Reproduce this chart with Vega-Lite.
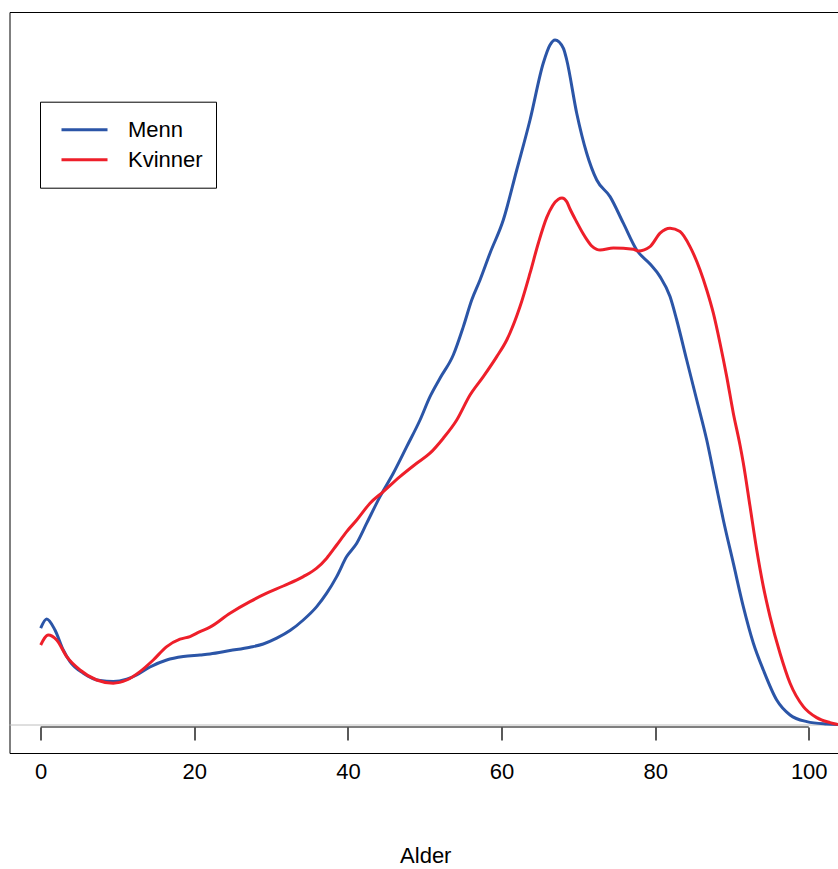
{
  "$schema": "https://vega.github.io/schema/vega-lite/v6.json",
  "autosize": {"type": "none"},
  "padding": {"left": 9.5, "top": 12, "right": -3, "bottom": 116},
  "width": 831.5,
  "height": 741,
  "background": "white",
  "config": {
    "view": {"stroke": "#000000", "strokeWidth": 1},
    "font": "Liberation Sans",
    "axis": {"labelFont": "Liberation Sans", "titleFont": "Liberation Sans"},
    "legend": {"labelFont": "Liberation Sans"}
  },
  "resolve": {"axis": {"x": "independent", "y": "independent"}},
  "layer": [
    {
      "data": {"values": [{"nivaa": 0}]},
      "mark": {"type": "rule", "color": "#bebebe", "strokeWidth": 1},
      "encoding": {
        "y": {"field": "nivaa", "type": "quantitative", "scale": {"domain": [-0.0014, 0.03565], "nice": false, "zero": false}, "axis": null}
      }
    },
    {
      "data": {"values": [{"fra": 0, "til": 100, "akse": -0.0001}]},
      "mark": {"type": "rule", "color": "#000000", "strokeWidth": 1.2},
      "encoding": {
        "x": {"field": "fra", "type": "quantitative", "scale": {"domain": [-4.06, 104.2], "nice": false, "zero": false}, "axis": null},
        "x2": {"field": "til"},
        "y": {"field": "akse", "type": "quantitative", "scale": {"domain": [-0.0014, 0.03565], "nice": false, "zero": false}, "axis": null}
      }
    },
    {
      "data": {"values": [
      {"kjonn": "Menn", "alder": 0.0, "tetthet": 0.00484},
      {"kjonn": "Menn", "alder": 0.78, "tetthet": 0.0053},
      {"kjonn": "Menn", "alder": 1.86, "tetthet": 0.00475},
      {"kjonn": "Menn", "alder": 2.94, "tetthet": 0.00375},
      {"kjonn": "Menn", "alder": 3.82, "tetthet": 0.00317},
      {"kjonn": "Menn", "alder": 5.55, "tetthet": 0.00259},
      {"kjonn": "Menn", "alder": 7.72, "tetthet": 0.00222},
      {"kjonn": "Menn", "alder": 9.45, "tetthet": 0.00217},
      {"kjonn": "Menn", "alder": 11.2, "tetthet": 0.00229},
      {"kjonn": "Menn", "alder": 12.5, "tetthet": 0.0025},
      {"kjonn": "Menn", "alder": 14.23, "tetthet": 0.0029},
      {"kjonn": "Menn", "alder": 16.41, "tetthet": 0.00325},
      {"kjonn": "Menn", "alder": 18.57, "tetthet": 0.00342},
      {"kjonn": "Menn", "alder": 20.74, "tetthet": 0.0035},
      {"kjonn": "Menn", "alder": 22.04, "tetthet": 0.00355},
      {"kjonn": "Menn", "alder": 24.65, "tetthet": 0.00372},
      {"kjonn": "Menn", "alder": 27.25, "tetthet": 0.00389},
      {"kjonn": "Menn", "alder": 28.98, "tetthet": 0.00405},
      {"kjonn": "Menn", "alder": 30.73, "tetthet": 0.00434},
      {"kjonn": "Menn", "alder": 32.46, "tetthet": 0.00472},
      {"kjonn": "Menn", "alder": 34.19, "tetthet": 0.00525},
      {"kjonn": "Menn", "alder": 35.94, "tetthet": 0.00592},
      {"kjonn": "Menn", "alder": 37.24, "tetthet": 0.00659},
      {"kjonn": "Menn", "alder": 38.54, "tetthet": 0.00742},
      {"kjonn": "Menn", "alder": 39.84, "tetthet": 0.00842},
      {"kjonn": "Menn", "alder": 41.15, "tetthet": 0.00909},
      {"kjonn": "Menn", "alder": 42.45, "tetthet": 0.01009},
      {"kjonn": "Menn", "alder": 44.18, "tetthet": 0.01142},
      {"kjonn": "Menn", "alder": 45.91, "tetthet": 0.01259},
      {"kjonn": "Menn", "alder": 47.66, "tetthet": 0.01392},
      {"kjonn": "Menn", "alder": 49.39, "tetthet": 0.01525},
      {"kjonn": "Menn", "alder": 50.69, "tetthet": 0.01642},
      {"kjonn": "Menn", "alder": 51.99, "tetthet": 0.01734},
      {"kjonn": "Menn", "alder": 53.72, "tetthet": 0.0185},
      {"kjonn": "Menn", "alder": 55.03, "tetthet": 0.01992},
      {"kjonn": "Menn", "alder": 56.12, "tetthet": 0.02125},
      {"kjonn": "Menn", "alder": 57.2, "tetthet": 0.02225},
      {"kjonn": "Menn", "alder": 58.5, "tetthet": 0.02359},
      {"kjonn": "Menn", "alder": 60.23, "tetthet": 0.02525},
      {"kjonn": "Menn", "alder": 61.98, "tetthet": 0.02775},
      {"kjonn": "Menn", "alder": 63.71, "tetthet": 0.03025},
      {"kjonn": "Menn", "alder": 65.44, "tetthet": 0.0331},
      {"kjonn": "Menn", "alder": 66.31, "tetthet": 0.034},
      {"kjonn": "Menn", "alder": 66.97, "tetthet": 0.03425},
      {"kjonn": "Menn", "alder": 68.05, "tetthet": 0.03384},
      {"kjonn": "Menn", "alder": 68.49, "tetthet": 0.03325},
      {"kjonn": "Menn", "alder": 69.79, "tetthet": 0.03059},
      {"kjonn": "Menn", "alder": 71.09, "tetthet": 0.02859},
      {"kjonn": "Menn", "alder": 72.4, "tetthet": 0.02725},
      {"kjonn": "Menn", "alder": 74.13, "tetthet": 0.02642},
      {"kjonn": "Menn", "alder": 75.86, "tetthet": 0.02509},
      {"kjonn": "Menn", "alder": 77.6, "tetthet": 0.02375},
      {"kjonn": "Menn", "alder": 79.34, "tetthet": 0.02305},
      {"kjonn": "Menn", "alder": 80.64, "tetthet": 0.02242},
      {"kjonn": "Menn", "alder": 81.94, "tetthet": 0.02142},
      {"kjonn": "Menn", "alder": 82.81, "tetthet": 0.02025},
      {"kjonn": "Menn", "alder": 84.11, "tetthet": 0.01825},
      {"kjonn": "Menn", "alder": 85.42, "tetthet": 0.01625},
      {"kjonn": "Menn", "alder": 86.72, "tetthet": 0.01425},
      {"kjonn": "Menn", "alder": 87.8, "tetthet": 0.01225},
      {"kjonn": "Menn", "alder": 88.88, "tetthet": 0.01025},
      {"kjonn": "Menn", "alder": 90.18, "tetthet": 0.00809},
      {"kjonn": "Menn", "alder": 91.48, "tetthet": 0.00592},
      {"kjonn": "Menn", "alder": 92.79, "tetthet": 0.00409},
      {"kjonn": "Menn", "alder": 94.09, "tetthet": 0.00275},
      {"kjonn": "Menn", "alder": 95.83, "tetthet": 0.00125},
      {"kjonn": "Menn", "alder": 97.57, "tetthet": 0.0005},
      {"kjonn": "Menn", "alder": 99.74, "tetthet": 0.00017},
      {"kjonn": "Menn", "alder": 102.34, "tetthet": 0.00005},
      {"kjonn": "Menn", "alder": 103.81, "tetthet": 0.00002},
      {"kjonn": "Kvinner", "alder": 0.0, "tetthet": 0.004},
      {"kjonn": "Kvinner", "alder": 0.99, "tetthet": 0.0045},
      {"kjonn": "Kvinner", "alder": 2.08, "tetthet": 0.00425},
      {"kjonn": "Kvinner", "alder": 3.39, "tetthet": 0.00342},
      {"kjonn": "Kvinner", "alder": 5.12, "tetthet": 0.00275},
      {"kjonn": "Kvinner", "alder": 7.29, "tetthet": 0.00225},
      {"kjonn": "Kvinner", "alder": 9.45, "tetthet": 0.00209},
      {"kjonn": "Kvinner", "alder": 11.2, "tetthet": 0.00225},
      {"kjonn": "Kvinner", "alder": 12.93, "tetthet": 0.00267},
      {"kjonn": "Kvinner", "alder": 14.66, "tetthet": 0.00325},
      {"kjonn": "Kvinner", "alder": 16.41, "tetthet": 0.00392},
      {"kjonn": "Kvinner", "alder": 18.14, "tetthet": 0.00429},
      {"kjonn": "Kvinner", "alder": 19.44, "tetthet": 0.00442},
      {"kjonn": "Kvinner", "alder": 20.74, "tetthet": 0.00467},
      {"kjonn": "Kvinner", "alder": 22.04, "tetthet": 0.00489},
      {"kjonn": "Kvinner", "alder": 24.65, "tetthet": 0.00559},
      {"kjonn": "Kvinner", "alder": 27.25, "tetthet": 0.00617},
      {"kjonn": "Kvinner", "alder": 29.43, "tetthet": 0.00659},
      {"kjonn": "Kvinner", "alder": 31.59, "tetthet": 0.00695},
      {"kjonn": "Kvinner", "alder": 34.19, "tetthet": 0.00742},
      {"kjonn": "Kvinner", "alder": 35.94, "tetthet": 0.00784},
      {"kjonn": "Kvinner", "alder": 37.24, "tetthet": 0.00834},
      {"kjonn": "Kvinner", "alder": 38.54, "tetthet": 0.009},
      {"kjonn": "Kvinner", "alder": 39.84, "tetthet": 0.00967},
      {"kjonn": "Kvinner", "alder": 41.15, "tetthet": 0.01025},
      {"kjonn": "Kvinner", "alder": 42.88, "tetthet": 0.01109},
      {"kjonn": "Kvinner", "alder": 44.61, "tetthet": 0.01167},
      {"kjonn": "Kvinner", "alder": 46.78, "tetthet": 0.01242},
      {"kjonn": "Kvinner", "alder": 48.96, "tetthet": 0.01309},
      {"kjonn": "Kvinner", "alder": 50.69, "tetthet": 0.01359},
      {"kjonn": "Kvinner", "alder": 52.42, "tetthet": 0.01434},
      {"kjonn": "Kvinner", "alder": 54.17, "tetthet": 0.01525},
      {"kjonn": "Kvinner", "alder": 55.9, "tetthet": 0.0165},
      {"kjonn": "Kvinner", "alder": 57.63, "tetthet": 0.01742},
      {"kjonn": "Kvinner", "alder": 59.38, "tetthet": 0.01842},
      {"kjonn": "Kvinner", "alder": 60.68, "tetthet": 0.01925},
      {"kjonn": "Kvinner", "alder": 62.41, "tetthet": 0.02092},
      {"kjonn": "Kvinner", "alder": 63.71, "tetthet": 0.02259},
      {"kjonn": "Kvinner", "alder": 64.79, "tetthet": 0.02409},
      {"kjonn": "Kvinner", "alder": 65.89, "tetthet": 0.02538},
      {"kjonn": "Kvinner", "alder": 67.4, "tetthet": 0.02629},
      {"kjonn": "Kvinner", "alder": 67.88, "tetthet": 0.02635},
      {"kjonn": "Kvinner", "alder": 68.49, "tetthet": 0.02617},
      {"kjonn": "Kvinner", "alder": 68.92, "tetthet": 0.0258},
      {"kjonn": "Kvinner", "alder": 69.79, "tetthet": 0.02515},
      {"kjonn": "Kvinner", "alder": 70.65, "tetthet": 0.02455},
      {"kjonn": "Kvinner", "alder": 71.09, "tetthet": 0.02428},
      {"kjonn": "Kvinner", "alder": 71.74, "tetthet": 0.02395},
      {"kjonn": "Kvinner", "alder": 72.4, "tetthet": 0.02378},
      {"kjonn": "Kvinner", "alder": 72.83, "tetthet": 0.02375},
      {"kjonn": "Kvinner", "alder": 74.56, "tetthet": 0.02385},
      {"kjonn": "Kvinner", "alder": 77.16, "tetthet": 0.02379},
      {"kjonn": "Kvinner", "alder": 77.81, "tetthet": 0.0237},
      {"kjonn": "Kvinner", "alder": 79.34, "tetthet": 0.02392},
      {"kjonn": "Kvinner", "alder": 80.64, "tetthet": 0.02459},
      {"kjonn": "Kvinner", "alder": 81.94, "tetthet": 0.02484},
      {"kjonn": "Kvinner", "alder": 83.24, "tetthet": 0.02467},
      {"kjonn": "Kvinner", "alder": 84.54, "tetthet": 0.02392},
      {"kjonn": "Kvinner", "alder": 85.85, "tetthet": 0.02275},
      {"kjonn": "Kvinner", "alder": 86.72, "tetthet": 0.02175},
      {"kjonn": "Kvinner", "alder": 87.58, "tetthet": 0.02059},
      {"kjonn": "Kvinner", "alder": 88.45, "tetthet": 0.01909},
      {"kjonn": "Kvinner", "alder": 89.32, "tetthet": 0.01742},
      {"kjonn": "Kvinner", "alder": 90.18, "tetthet": 0.01559},
      {"kjonn": "Kvinner", "alder": 91.05, "tetthet": 0.014},
      {"kjonn": "Kvinner", "alder": 91.48, "tetthet": 0.0131},
      {"kjonn": "Kvinner", "alder": 92.36, "tetthet": 0.01092},
      {"kjonn": "Kvinner", "alder": 93.23, "tetthet": 0.00875},
      {"kjonn": "Kvinner", "alder": 94.09, "tetthet": 0.00692},
      {"kjonn": "Kvinner", "alder": 94.96, "tetthet": 0.00542},
      {"kjonn": "Kvinner", "alder": 96.26, "tetthet": 0.00359},
      {"kjonn": "Kvinner", "alder": 97.57, "tetthet": 0.00209},
      {"kjonn": "Kvinner", "alder": 99.3, "tetthet": 0.00092},
      {"kjonn": "Kvinner", "alder": 101.04, "tetthet": 0.00037},
      {"kjonn": "Kvinner", "alder": 102.77, "tetthet": 0.00012},
      {"kjonn": "Kvinner", "alder": 103.81, "tetthet": 0.00002}
      ]},
      "mark": {"type": "line", "strokeWidth": 3, "interpolate": "monotone"},
      "encoding": {
        "x": {
          "field": "alder",
          "type": "quantitative",
          "scale": {"domain": [-4.06, 104.2], "nice": false, "zero": false},
          "axis": {
            "values": [0, 20, 40, 60, 80, 100],
            "domain": false,
            "grid": false,
            "offset": -26,
            "tickSize": 13,
            "tickColor": "#000000",
            "tickWidth": 1.3,
            "labelFontSize": 22,
            "labelColor": "#000000",
            "labelPadding": 21,
            "labelFlush": false,
            "labelOverlap": false,
            "title": "Alder",
            "titleFontSize": 22,
            "titleFontWeight": "normal",
            "titleColor": "#000000",
            "titlePadding": 63
          }
        },
        "y": {
          "field": "tetthet",
          "type": "quantitative",
          "scale": {"domain": [-0.0014, 0.03565], "nice": false, "zero": false},
          "axis": null
        },
        "color": {
          "field": "kjonn",
          "type": "nominal",
          "scale": {"domain": ["Menn", "Kvinner"], "range": ["#2B55A7", "#EE1F2A"]},
          "legend": {
            "title": null,
            "orient": "none",
            "legendX": 30.5,
            "legendY": 89.7,
            "padding": 13,
            "strokeColor": "#000000",
            "fillColor": "#ffffff",
            "symbolType": "stroke",
            "symbolSize": 2116,
            "symbolStrokeWidth": 3,
            "symbolOffset": 7,
            "labelOffset": 19,
            "labelFontSize": 22,
            "labelColor": "#000000",
            "clipHeight": 30,
            "rowPadding": 0
          }
        }
      }
    }
  ]
}
